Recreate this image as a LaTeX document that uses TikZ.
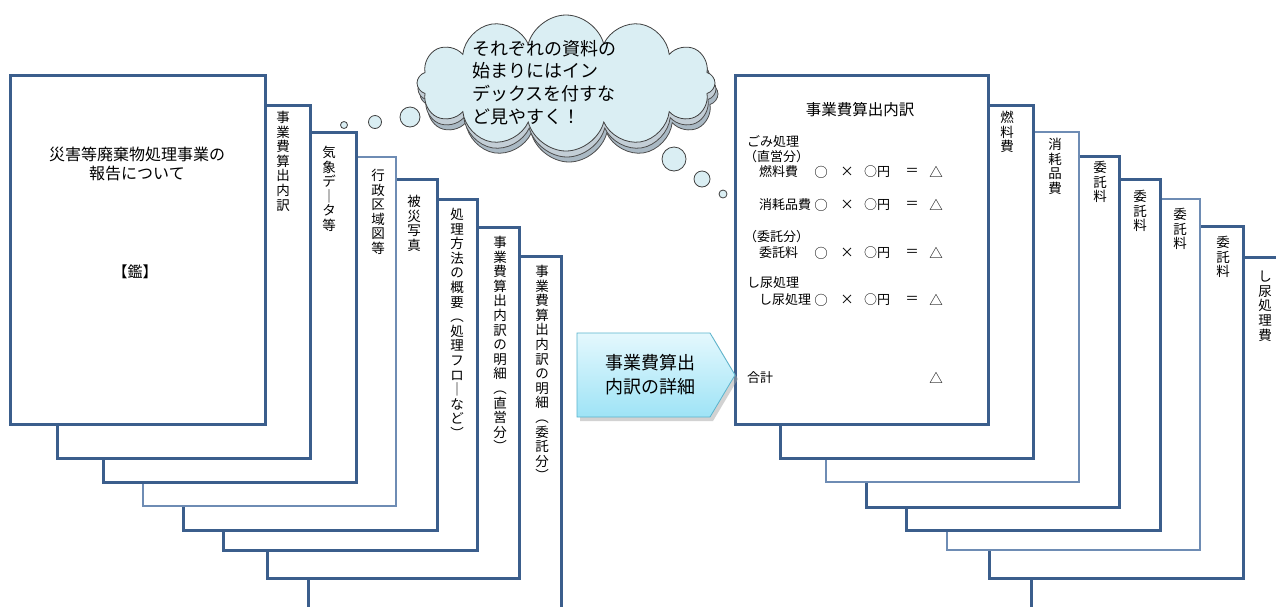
\documentclass[tikz,border=0pt]{standalone}
\usepackage{fontspec}
\usetikzlibrary{shapes.symbols,shadows}
\newfontfamily\jp{Noto Sans CJK JP}
\definecolor{pageblue}{RGB}{59,94,140}
\definecolor{thinblue}{RGB}{110,140,180}
\definecolor{cloudfill}{RGB}{218,238,243}
\definecolor{cloudshadow}{RGB}{170,185,196}
\definecolor{arrowtop}{RGB}{228,248,253}
\definecolor{arrowbot}{RGB}{158,227,246}
\definecolor{arrowline}{RGB}{90,180,205}
\begin{document}
\begin{tikzpicture}[x=1pt,y=-1pt,
  pg/.style={draw=pageblue,line width=3pt,fill=white},
  pgthin/.style={draw=thinblue,line width=1.2pt,fill=white},
  vlab/.style={anchor=north,align=center,inner sep=0pt,font=\jp\fontsize{13.5}{14.6}\selectfont},
  body/.style={anchor=west,inner sep=0pt,font=\jp\fontsize{13}{13}\selectfont},
  sym/.style={inner sep=0pt,font=\jp\fontsize{13.5}{13.5}\selectfont},
  bubble/.style={circle,draw=black!75,line width=0.8pt,fill=cloudfill,inner sep=0pt}]
\useasboundingbox (0,0) rectangle (1276,606);
\clip (0,0) rectangle (1276,606);
\fill[white] (0,0) rectangle (1276,606);

% ---------- left stack (back to front) ----------
\draw[pg] (308,256) rectangle (561,640);
\draw[pg] (267,227) rectangle (519,578);
\draw[pg] (223,199) rectangle (477,550);
\draw[pg] (183,179) rectangle (437,530);
\draw[pgthin] (143,157) rectangle (396,506);
\draw[pg] (103,132) rectangle (356,482);
\draw[pg] (57,105) rectangle (310,458);
\draw[pg] (10,75) rectangle (265,424);

\node[vlab] (t1) at (283,111) {事\\業\\費\\算\\出\\内\\訳};
\node[vlab] (t2) at (329,146) {気\\象\\デ\\｜\\タ\\等};
\node[vlab] (t3) at (378,169) {行\\政\\区\\域\\図\\等};
\node[vlab] (t4) at (414,195) {被\\災\\写\\真};
\node[vlab] (t5) at (457,208) {処\\理\\方\\法\\の\\概\\要\\︵\\処\\理\\フ\\ロ\\｜\\な\\ど\\︶};
\node[vlab] (t6) at (500,236) {事\\業\\費\\算\\出\\内\\訳\\の\\明\\細\\︵\\直\\営\\分\\︶};
\node[vlab] (t7) at (542,265) {事\\業\\費\\算\\出\\内\\訳\\の\\明\\細\\︵\\委\\託\\分\\︶};

\node[align=center,inner sep=0pt,font=\jp\fontsize{16}{19}\selectfont] (ltitle) at (137,164) {災害等廃棄物処理事業の\\報告について};
\node[inner sep=0pt,font=\jp\fontsize{15}{15}\selectfont] (kagami) at (135,272) {【鑑】};

% ---------- right stack (back to front) ----------
\draw[pg] (1031,257) rectangle (1300,640);
\draw[pg] (989,226) rectangle (1243,578);
\draw[pgthin] (947,199) rectangle (1200,550);
\draw[pg] (906,179) rectangle (1160,530);
\draw[pg] (866,156) rectangle (1119,507);
\draw[pgthin] (826,132) rectangle (1079,482);
\draw[pg] (780,105) rectangle (1033,458);
\draw[pg] (735,75) rectangle (988,424);

\node[vlab] (r1) at (1007,111) {燃\\料\\費};
\node[vlab] (r2) at (1055,138) {消\\耗\\品\\費};
\node[vlab] (r3) at (1100,161) {委\\託\\料};
\node[vlab] (r4) at (1140,190) {委\\託\\料};
\node[vlab] (r5) at (1180,208) {委\\託\\料};
\node[vlab] (r6) at (1223,236) {委\\託\\料};
\node[vlab] (r7) at (1265,271) {し\\尿\\処\\理\\費};

\node[inner sep=0pt,font=\jp\fontsize{15.5}{15.5}\selectfont] (rtitle) at (860,110) {事業費算出内訳};
\node[body] (g1) at (747,142) {ごみ処理};
\node[body] (g2) at (744,157) {（直営分）};
\node[body] (g3) at (759,172) {燃料費};
\node[body] (g4) at (759,205) {消耗品費};
\node[body] (g5) at (744,237) {（委託分）};
\node[body] (g6) at (759,253) {委託料};
\node[body] (g7) at (747,283) {し尿処理};
\node[body] (g8) at (759,300) {し尿処理};
\node[body] (g9) at (747,378) {合計};
\foreach \yy/\nm in {172/a,205/b,253/c,300/d}{
  \node[sym] (o1\nm) at (821,\yy) {○};
  \node[sym] (x\nm) at (847,\yy) {×};
  \node[sym,anchor=west,font=\jp\fontsize{13}{13}\selectfont] (o2\nm) at (864,\yy) {○円};
  \node[sym] (e\nm) at (912,\yy) {＝};
  \node[sym] (d\nm) at (936,\yy) {△};
}
\node[sym] (dsum) at (936,378) {△};

% ---------- arrow ----------
\fill[black!35,opacity=0.5] (580,337) -- (713,337) -- (738,379) -- (713,421) -- (580,421) -- cycle;
\shade[top color=arrowtop,bottom color=arrowbot,draw=arrowline,line width=0.8pt]
  (577,333) -- (710,333) -- (735,375) -- (710,417) -- (577,417) -- cycle;
\node[align=center,inner sep=0pt,font=\jp\fontsize{18}{24}\selectfont] (arrowtext) at (650,375) {事業費算出\\内訳の詳細};

% ---------- cloud ----------
\node[cloud,cloud puffs=12,aspect=2.3,minimum width=298pt,minimum height=136pt,
      fill=cloudshadow,draw=black!70,line width=0.8pt] (cloudsh2) at (569,94) {};
\node[cloud,cloud puffs=12,aspect=2.3,minimum width=298pt,minimum height=136pt,
      fill=cloudshadow!70,draw=black!70,line width=0.8pt] (cloudsh1) at (567,89) {};
\node[cloud,cloud puffs=12,aspect=2.3,minimum width=298pt,minimum height=136pt,
      fill=cloudfill,draw=black!75,line width=0.8pt] (cloud) at (566,83) {};
\node[anchor=north west,align=left,inner sep=0pt,font=\jp\fontsize{18}{22.6}\selectfont] (ctext) at (472,40)
  {それぞれの資料の\\始まりにはイン\\デックスを付すな\\ど見やすく！};

\node[bubble,minimum size=20pt] (b1) at (410,117) {};
\node[bubble,minimum size=13pt] (b2) at (375,122) {};
\node[bubble,minimum size=7pt] (b3) at (344,125) {};
\node[bubble,minimum size=24pt] (b4) at (674,159) {};
\node[bubble,minimum size=16pt] (b5) at (702,179) {};
\node[bubble,minimum size=8pt] (b6) at (723,194) {};
\end{tikzpicture}
\end{document}
